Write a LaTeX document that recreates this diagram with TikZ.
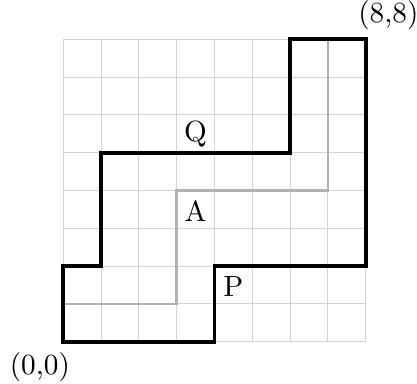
\documentclass[tikz,border=0pt]{standalone}
\usepackage{tikz}
\usetikzlibrary{positioning}
\tikzset{
  gridln/.style ={draw=black!17, line width=0.7pt},
  pathP/.style  ={draw=black, line width=2.8pt, line join=miter},
  pathA/.style  ={draw=black!30, line width=2pt},
  lbl/.style    ={scale=2.2, inner sep=0pt},
}
\begin{document}
\begin{tikzpicture}
\useasboundingbox (-1.675,-1.093) rectangle (9.357,9.04);

\draw[gridln] (0,0) grid (8,8);

% middle path
\draw[pathA] (0,1) -- (3,1) -- (3,4) -- (7,4) -- (7,8);

% the two outer paths P and Q, meeting at (0,0) and (8,8)
\draw[pathP] (0,0) -- (4,0) -- (4,2) -- (8,2) -- (8,8)
             -- (6,8) -- (6,5) -- (1,5) -- (1,2) -- (0,2) -- cycle;

\node[lbl] (orig) at (-0.62,-0.67) {(0,0)};
\node[lbl] (corner) at (8.6,8.64) {(8,8)};
\node[lbl] (q) at (3.5,5.5) {Q};
\node[lbl] (a) at (3.5,3.45) {A};
\node[lbl] (p) at (4.5,1.47) {P};
\end{tikzpicture}
\end{document}
